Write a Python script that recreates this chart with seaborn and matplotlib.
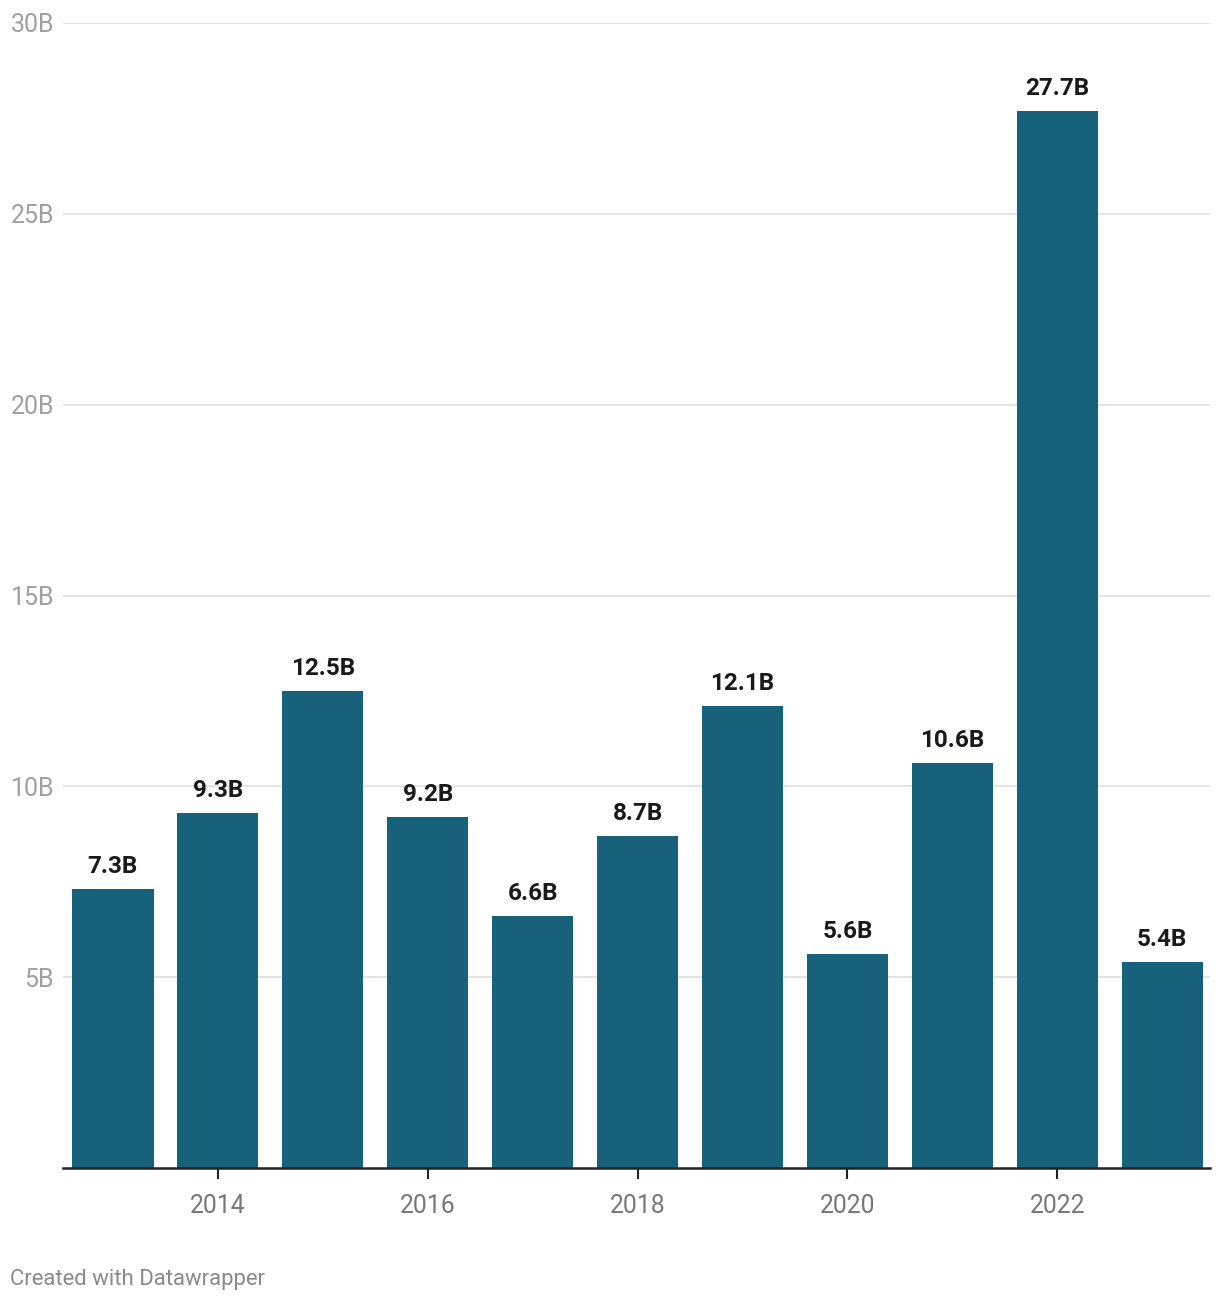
import matplotlib.pyplot as plt
import seaborn as sns
import pandas as pd

years = [2013, 2014, 2015, 2016, 2017, 2018, 2019, 2020, 2021, 2022, 2023]
values = [7.3, 9.3, 12.5, 9.2, 6.6, 8.7, 12.1, 5.6, 10.6, 27.7, 5.4]
labels = ["7.3B", "9.3B", "12.5B", "9.2B", "6.6B", "8.7B", "12.1B", "5.6B", "10.6B", "27.7B", "5.4B"]
y_ticks = [5, 10, 15, 20, 25, 30]
y_ticklabels = ["5B", "10B", "15B", "20B", "25B", "30B"]

sns.set_theme(style="white")
plt.rcParams["font.family"] = ["Roboto", "DejaVu Sans"]

df = pd.DataFrame({"year": [str(y) for y in years], "value": values})

fig = plt.figure(figsize=(12.2, 13.02), dpi=100)
ax = fig.add_axes([63 / 1220, 1 - 1168 / 1302, (1210 - 63) / 1220, (1168 - 23) / 1302])

sns.barplot(data=df, x="year", y="value", color="#17627a", saturation=1,
            width=0.775, linewidth=0, ax=ax, zorder=3)

for i, (v, lab) in enumerate(zip(values, labels)):
    ax.annotate(lab, (i, v), xytext=(0, 11.5), textcoords="offset points",
                ha="center", va="baseline", fontsize=17.5, fontweight="bold",
                color="#1a1a1a")

ax.set_xlim(-0.475, len(years) - 1 + 0.455)
ax.set_ylim(0, 30)

ax.set_yticks(y_ticks)
ax.set_yticklabels(y_ticklabels)
ax.yaxis.grid(True, color="#e2e2e2", linewidth=1.3, zorder=0)
ax.tick_params(axis="y", length=0, pad=6.5, labelsize=18, labelcolor="#a0a0a0")

xt = [i for i, y in enumerate(years) if y % 2 == 0]
ax.set_xticks(xt)
ax.set_xticklabels([str(years[i]) for i in xt])
ax.tick_params(axis="x", length=8, width=1.5, color="#222222", pad=11,
               labelsize=17.8, labelcolor="#777777", bottom=True)

for s in ["top", "right", "left"]:
    ax.spines[s].set_visible(False)
ax.spines["bottom"].set_color("#222222")
ax.spines["bottom"].set_linewidth(1.8)
ax.spines["bottom"].set_zorder(4)
ax.set_xlabel("")
ax.set_ylabel("")

fig.text(10 / 1220, 1 - 1279 / 1302, "Created with Datawrapper", fontsize=15.9,
         color="#8a8a8a", ha="left", va="center")

fig.savefig("out.png", dpi=100)
